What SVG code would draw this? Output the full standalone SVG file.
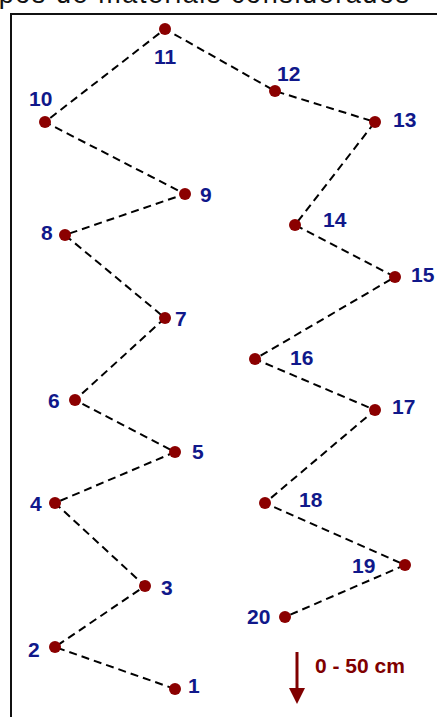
<svg xmlns="http://www.w3.org/2000/svg" width="437" height="717" viewBox="0 0 437 717">
<style>
.lbl{font-family:"Liberation Sans",Arial,sans-serif;font-weight:bold;font-size:21px;fill:#10188a}
.dot{fill:#8b0000}
.con{fill:none;stroke:#000;stroke-width:2;stroke-dasharray:8,5}
.top{font-family:"Liberation Sans",Arial,sans-serif;font-size:27px;fill:#111}
</style>
<defs>
<marker id="ah" markerWidth="16" markerHeight="16" refX="0" refY="8" orient="auto" markerUnits="userSpaceOnUse" viewBox="0 0 16 16">
<path d="M0,0 L16,8 L0,16 Z" fill="#800000"/>
</marker>
</defs>
<rect width="437" height="717" fill="#fff"/>
<text class="top" x="-18" y="3" textLength="427" lengthAdjust="spacing">tipos de materiais considerados</text>
<path d="M11,720 V14 H440" fill="none" stroke="#111" stroke-width="2"/>
<g id="connectors">
<polyline class="con" points="175,689 55,647 145,586 55,503 175,452 75,400 165,318 65,235 185,194 45,122 165,29 275,91 375,122 295,225 395,277 255,359 375,410 265,503 405,565 285,617"/>
</g>
<g id="n1"><circle class="dot" cx="175" cy="689" r="6"/><text class="lbl" x="188" y="693">1</text></g>
<g id="n2"><circle class="dot" cx="55" cy="647" r="6"/><text class="lbl" x="28" y="657">2</text></g>
<g id="n3"><circle class="dot" cx="145" cy="586" r="6"/><text class="lbl" x="161" y="595">3</text></g>
<g id="n4"><circle class="dot" cx="55" cy="503" r="6"/><text class="lbl" x="30" y="511">4</text></g>
<g id="n5"><circle class="dot" cx="175" cy="452" r="6"/><text class="lbl" x="192" y="459">5</text></g>
<g id="n6"><circle class="dot" cx="75" cy="400" r="6"/><text class="lbl" x="48" y="408">6</text></g>
<g id="n7"><circle class="dot" cx="165" cy="318" r="6"/><text class="lbl" x="175" y="326">7</text></g>
<g id="n8"><circle class="dot" cx="65" cy="235" r="6"/><text class="lbl" x="41" y="240">8</text></g>
<g id="n9"><circle class="dot" cx="185" cy="194" r="6"/><text class="lbl" x="200" y="202">9</text></g>
<g id="n10"><circle class="dot" cx="45" cy="122" r="6"/><text class="lbl" x="29" y="106">10</text></g>
<g id="n11"><circle class="dot" cx="165" cy="29" r="6"/><text class="lbl" x="154" y="64">11</text></g>
<g id="n12"><circle class="dot" cx="275" cy="91" r="6"/><text class="lbl" x="277" y="81">12</text></g>
<g id="n13"><circle class="dot" cx="375" cy="122" r="6"/><text class="lbl" x="393" y="127">13</text></g>
<g id="n14"><circle class="dot" cx="295" cy="225" r="6"/><text class="lbl" x="323" y="227">14</text></g>
<g id="n15"><circle class="dot" cx="395" cy="277" r="6"/><text class="lbl" x="411" y="282">15</text></g>
<g id="n16"><circle class="dot" cx="255" cy="359" r="6"/><text class="lbl" x="290" y="365">16</text></g>
<g id="n17"><circle class="dot" cx="375" cy="410" r="6"/><text class="lbl" x="392" y="414">17</text></g>
<g id="n18"><circle class="dot" cx="265" cy="503" r="6"/><text class="lbl" x="299" y="507">18</text></g>
<g id="n19"><circle class="dot" cx="405" cy="565" r="6"/><text class="lbl" x="352" y="573">19</text></g>
<g id="n20"><circle class="dot" cx="285" cy="617" r="6"/><text class="lbl" x="247" y="624">20</text></g>
<g id="scale">
<line x1="297" y1="652" x2="297" y2="688" stroke="#800000" stroke-width="3" marker-end="url(#ah)"/>
<text x="315" y="673" style="font-family:'Liberation Sans',Arial,sans-serif;font-weight:bold;font-size:21px;fill:#800000">0 - 50 cm</text>
</g>
</svg>
